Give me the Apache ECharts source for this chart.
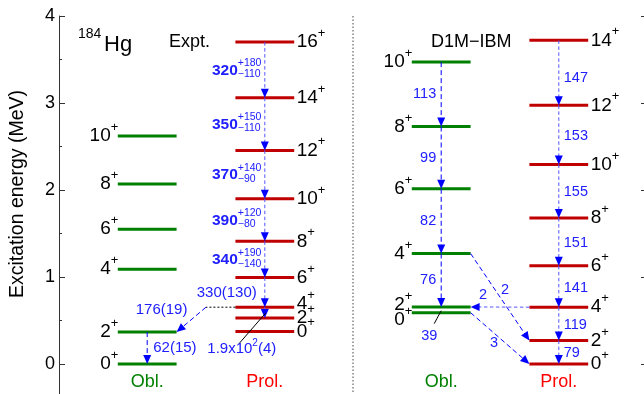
<!DOCTYPE html>
<html>
<head>
<meta charset="utf-8">
<script src="https://cdn.jsdelivr.net/npm/echarts@6/dist/echarts.min.js"></script>
<style>
html, body { margin: 0; padding: 0; background: #fff; }
#chart { width: 644px; height: 394px; }
</style>
</head>
<body>
<div id="chart"></div>
<script>
// level energies (MeV), lowest spin first
var expOblSpins = ['0', '2', '4', '6', '8', '10'];
var expOblE = [0, 0.367, 1.09, 1.55, 2.07, 2.62];
var expProlSpins = ['0', '2', '4', '6', '8', '10', '12', '14', '16'];
var expProlE = [0.375, 0.53, 0.653, 0.995, 1.41, 1.90, 2.455, 3.06, 3.70];
var thOblSpins = ['0', '2', '4', '6', '8', '10'];
var thOblE = [0.59, 0.656, 1.27, 2.014, 2.73, 3.47];
var thProlSpins = ['0', '2', '4', '6', '8', '10', '12', '14'];
var thProlE = [0, 0.269, 0.653, 1.128, 1.677, 2.294, 2.973, 3.72];

// B(E2) values, index i = transition (i+1) -> i
var expProlBE2 = [null, '1.9x10{2}(4)', '330(130)', '340', '390', '370', '350', '320'];
var expProlErrUp = [null, null, null, '+190', '+120', '+140', '+150', '+180'];
var expProlErrDown = [null, null, null, '\u2212140', '\u221280', '\u221290', '\u2212110', '\u2212110'];
var expOblBE2 = ['62(15)'];
var expInterBE2 = '176(19)';
var thOblBE2 = ['39', '76', '82', '99', '113'];
var thProlBE2 = ['79', '119', '141', '151', '155', '153', '147'];
var thInterBE2 = ['2', '2', '3'];

var FONT = '"Liberation Sans", Arial, Helvetica, sans-serif';
var GREEN = '#008000', RED = '#c00000', BLUE = '#0000ff', LBLUE = '#5555ff', TBLUE = '#2020ff';

// columns on hidden x axis
var cExpObl = 3, cExpProl = 7, cThObl = 13, cThProl = 17, halfW = 1;

var marks = [];
function addLevels(col, spins, en, color, side, key) {
    for (var i = 0; i < spins.length; i++) {
        marks.push({kind: 'level', value: [col, en[i]], spin: spins[i], color: color, side: side, key: key + spins[i]});
    }
}
addLevels(cExpObl, expOblSpins, expOblE, GREEN, 'left', 'eo');
addLevels(cExpProl, expProlSpins, expProlE, RED, 'right', 'ep');
addLevels(cThObl, thOblSpins, thOblE, GREEN, 'left', 'to');
addLevels(cThProl, thProlSpins, thProlE, RED, 'right', 'tp');

// small label nudges for crowded levels (px)
var spinNudge = {ep4: -3, to2: -2, to0: 7};

function arrow(x1, e1, x2, e2, light) {
    marks.push({kind: 'arrow', value: [x1, e1], to: [x2, e2], light: light});
}
// vertical chains
for (var i = 1; i < expProlE.length - 1; i++) arrow(cExpProl, expProlE[i + 1], cExpProl, expProlE[i], true);
arrow(cExpObl, expOblE[1], cExpObl, expOblE[0], false);
for (var i = 1; i < thOblE.length - 1; i++) arrow(cThObl, thOblE[i + 1], cThObl, thOblE[i], false);
for (var i = 0; i < thProlE.length - 1; i++) arrow(cThProl, thProlE[i + 1], cThProl, thProlE[i], true);
// interband
marks.push({kind: 'guide', value: [cExpProl - halfW, expProlE[2]], to: [5, expProlE[2]], dotted: true});
arrow(5, expProlE[2], cExpObl + halfW, expOblE[1], false);
arrow(cThObl + halfW, thOblE[2], cThProl - halfW, thProlE[1], false);
arrow(cThProl - halfW, thProlE[2], cThObl + halfW, thOblE[1], true);
arrow(cThObl + halfW, thOblE[0], cThProl - halfW, thProlE[0], false);

// B(E2) labels
function mid(a, i) { return (a[i] + a[i + 1]) / 2; }
for (var i = 2; i < expProlBE2.length; i++) {
    if (expProlErrUp[i]) {
        marks.push({kind: 'be2err', value: [cExpProl, mid(expProlE, i)], text: expProlBE2[i], up: expProlErrUp[i], down: expProlErrDown[i]});
    } else {
        marks.push({kind: 'text', value: [cExpProl, mid(expProlE, i)], text: expProlBE2[i], align: 'right', dx: -8, dy: 1});
    }
}
marks.push({kind: 'pointer', value: [cExpProl, expProlE[1]], text: expProlBE2[1], from: [-26, 26], end: [1, -5], at: [-23, 31]});
marks.push({kind: 'text', value: [cExpObl, mid(expOblE, 0)], text: expOblBE2[0], align: 'left', dx: 6, dy: 0});
marks.push({kind: 'text', value: [cExpObl + halfW, expOblE[1]], text: expInterBE2, align: 'center', dx: -15, dy: -22});
for (var i = 1; i < thOblBE2.length; i++) {
    marks.push({kind: 'text', value: [cThObl, mid(thOblE, i)], text: thOblBE2[i], align: 'right', dx: -5, dy: 0, small: true});
}
marks.push({kind: 'pointer', value: [cThObl, thOblE[0]], text: thOblBE2[0], from: [-7, 11], end: [0, -2], at: [-12, 23], small: true});
for (var i = 0; i < thProlBE2.length; i++) {
    marks.push({kind: 'text', value: [cThProl, mid(thProlE, i)], text: thProlBE2[i], align: 'left', dx: 5,
        dy: i === thProlBE2.length - 1 ? 5 : 1, small: true});
}
// labels on the interband arrows, placed from the arrow midpoints
var interArrows = [
    [[cThObl + halfW, thOblE[2]], [cThProl - halfW, thProlE[1]], [5, -7]],
    [[cThProl - halfW, thProlE[2]], [cThObl + halfW, thOblE[1]], [-17, -12]],
    [[cThObl + halfW, thOblE[0]], [cThProl - halfW, thProlE[0]], [-6, 5]]
];
interArrows.forEach(function (a, k) {
    marks.push({kind: 'midtext', value: a[0], to: a[1], off: a[2], text: thInterBE2[k]});
});
// column names and separator
var columns = [[cExpObl, 'Obl.', GREEN], [cExpProl, 'Prol.', '#ff0000'], [cThObl, 'Obl.', GREEN], [cThProl, 'Prol.', '#ff0000']];
columns.forEach(function (c) { marks.push({kind: 'colname', value: [c[0], 0], text: c[1], color: c[2]}); });
marks.push({kind: 'guide', value: [10, 4], to: [10, -0.4], dotted: true, sep: true});

function txt(x, y, text, o) {
    return {type: 'text', x: x, y: y, style: Object.assign({
        text: text, fill: TBLUE, fontSize: 15, fontFamily: FONT,
        align: 'left', verticalAlign: 'middle'
    }, o || {})};
}

function renderItem(params, api) {
    var m = marks[params.dataIndex];
    var p = api.coord(m.value);
    var ch = [];
    if (m.kind === 'level') {
        var a = api.coord([m.value[0] - halfW, m.value[1]]);
        var b = api.coord([m.value[0] + halfW, m.value[1]]);
        ch.push({type: 'line', shape: {x1: a[0], y1: a[1], x2: b[0], y2: b[1]}, style: {stroke: m.color, lineWidth: 3}});
        var left = m.side === 'left';
        ch.push(txt(left ? a[0] + 0.5 : b[0] + 2.5, a[1] + (spinNudge[m.key] || 0), '{n|' + m.spin + '}{s|+}', {
            fill: '#000', align: left ? 'right' : 'left',
            rich: {
                n: {fontSize: 19, fontFamily: FONT, fill: '#000'},
                s: {fontSize: 13, fontFamily: FONT, fill: '#000', padding: [0, 0, 17, 0]}
            }
        }));
    } else if (m.kind === 'arrow') {
        var q = api.coord(m.to);
        var dx = q[0] - p[0], dy = q[1] - p[1], len = Math.sqrt(dx * dx + dy * dy);
        var ux = dx / len, uy = dy / len, L = 9, W = 4;
        var bx = q[0] - ux * L, by = q[1] - uy * L;
        ch.push({type: 'line', shape: {x1: p[0], y1: p[1], x2: bx + ux * 2, y2: by + uy * 2},
            style: {stroke: m.light ? LBLUE : BLUE, lineWidth: 1, lineDash: m.light ? [3.5, 2.5] : [5, 3]}});
        ch.push({type: 'polygon', shape: {points: [[q[0], q[1]], [bx - uy * W, by + ux * W], [bx + uy * W, by - ux * W]]},
            style: {fill: BLUE}});
    } else if (m.kind === 'guide') {
        var q2 = api.coord(m.to);
        ch.push({type: 'line', shape: {x1: p[0], y1: p[1], x2: q2[0], y2: q2[1]},
            style: {stroke: m.sep ? '#444' : '#000', lineWidth: 1, lineDash: m.sep ? [1.5, 2] : [2, 2]}});
    } else if (m.kind === 'text') {
        ch.push(txt(p[0] + m.dx, p[1] + m.dy, m.text, {align: m.align, fontSize: m.small ? 14.5 : 15}));
    } else if (m.kind === 'be2err') {
        var xs = p[0] - 27;
        ch.push(txt(xs, p[1] + 0.5, m.text, {align: 'right', fontSize: 15.5, fontWeight: 'bold'}));
        ch.push(txt(xs, p[1] - 6.5, m.up, {fontSize: 10.5}));
        ch.push(txt(xs, p[1] + 4.5, m.down, {fontSize: 10.5}));
    } else if (m.kind === 'pointer') {
        ch.push({type: 'line', shape: {x1: p[0] + m.from[0], y1: p[1] + m.from[1], x2: p[0] + m.end[0], y2: p[1] + m.end[1]},
            style: {stroke: '#000', lineWidth: 1}});
        var t = m.text.replace(/\{(\w+)\}/, '}{s|$1}{n|');
        ch.push(txt(p[0] + m.at[0], p[1] + m.at[1], '{n|' + t + '}', {
            align: 'center',
            rich: {
                n: {fontSize: m.small ? 14.5 : 15, fontFamily: FONT, fill: TBLUE},
                s: {fontSize: 10, fontFamily: FONT, fill: TBLUE, padding: [0, 0, 11, 0]}
            }
        }));
    } else if (m.kind === 'midtext') {
        var q3 = api.coord(m.to);
        ch.push(txt((p[0] + q3[0]) / 2 + m.off[0], (p[1] + q3[1]) / 2 + m.off[1], m.text, {align: 'center', fontSize: 14.5}));
    } else if (m.kind === 'colname') {
        ch.push(txt(p[0], p[1] + 18.5, m.text, {align: 'center', fontSize: 18, fill: m.color}));
    }
    return {type: 'group', children: ch};
}

var axisCommon = {
    type: 'value', min: -1, max: 4, interval: 1,
    axisLine: {show: true, lineStyle: {color: '#333', width: 1}},
    axisTick: {show: true, inside: true, length: 6, lineStyle: {color: '#333'}},
    minorTick: {show: true, splitNumber: 2, length: 3, lineStyle: {color: '#333'}},
    splitLine: {show: false}
};

var myChart = echarts.init(document.getElementById('chart'));
var option = {
    animation: false,
    grid: {left: 59, top: 16, width: 588, height: 435, containLabel: false, outerBoundsMode: 'none'},
    xAxis: {type: 'value', min: 0, max: 20, show: false},
    yAxis: [
        Object.assign({}, axisCommon, {position: 'left',
            axisLabel: {color: '#000', fontSize: 18, fontFamily: FONT, margin: 4}}),
        Object.assign({}, axisCommon, {position: 'right', axisLabel: {show: false}})
    ],
    graphic: [
        {type: 'text', x: 18, y: 194, rotation: Math.PI / 2,
            style: {text: 'Excitation energy (MeV)', fontSize: 19.5, fontFamily: FONT, fill: '#000', align: 'center', verticalAlign: 'middle'}},
        {type: 'text', x: 78, y: 34, style: {text: '184', fontSize: 14, fontFamily: FONT, fill: '#000', verticalAlign: 'middle'}},
        {type: 'text', x: 104, y: 45, style: {text: 'Hg', fontSize: 22, fontFamily: FONT, fill: '#000', verticalAlign: 'middle'}},
        {type: 'text', x: 169, y: 42, style: {text: 'Expt.', fontSize: 18, fontFamily: FONT, fill: '#000', verticalAlign: 'middle'}},
        {type: 'text', x: 431, y: 42, style: {text: 'D1M\u2212IBM', fontSize: 18, fontFamily: FONT, fill: '#000', verticalAlign: 'middle'}}
    ],
    series: [{
        type: 'custom',
        coordinateSystem: 'cartesian2d',
        renderItem: renderItem,
        data: marks.map(function (m) { return m.value; }),
        clip: false,
        silent: true
    }]
};
myChart.setOption(option);
</script>
</body>
</html>
